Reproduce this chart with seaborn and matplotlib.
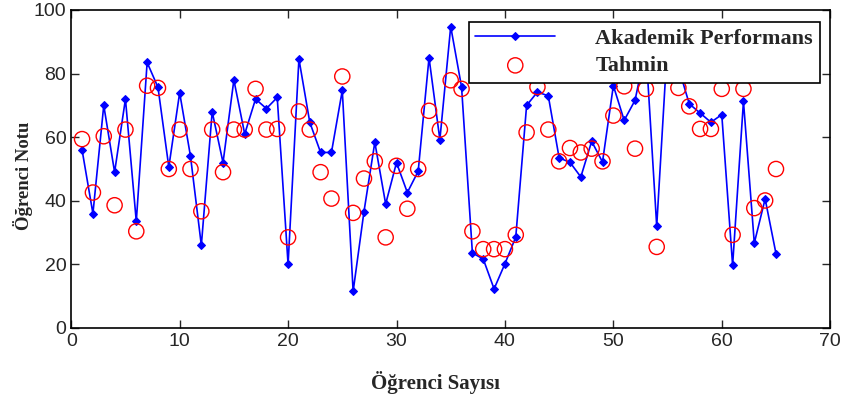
import numpy as np
import pandas as pd
import seaborn as sns
import matplotlib.pyplot as plt

# Data
ogrenci = list(range(1, 66))
akademik = [56, 36, 70, 49, 72, 33.5, 83.5, 75.7, 50.6, 74, 54, 26, 68, 52, 78,
            61, 72, 69, 72.5, 20, 84.6, 64.7, 55.2, 55.2, 74.7, 11.5, 36.6, 58.4, 39, 52,
            42.6, 49.3, 85, 59.2, 94.8, 75.8, 23.6, 21.7, 12.3, 20.2, 28.6, 70, 74.2, 73, 53.5,
            52.1, 47.5, 58.7, 52.2, 76.2, 65.3, 71.6, 88, 32, 90, 82, 70.5, 67.6, 64.7, 67.1,
            19.7, 71.3, 26.7, 40.6, 23.4]
tahmin = [59.4, 42.6, 60.3, 38.6, 62.4, 30.4, 76.2, 75.5, 50, 62.4, 50, 36.7, 62.4, 49, 62.4,
          62.4, 75.2, 62.4, 62.6, 28.5, 68.1, 62.4, 49, 40.7, 79.1, 36.2, 47, 52.4, 28.5, 51,
          37.5, 50, 68.3, 62.4, 77.9, 75.2, 30.4, 24.8, 24.8, 24.8, 29.3, 61.5, 75.8, 62.4, 52.4,
          56.6, 55.2, 56.4, 52.4, 66.8, 76, 56.4, 75.2, 25.5, 80, 75.5, 69.7, 62.6, 62.6, 75.2,
          29.3, 75.2, 37.7, 40.1, 50]

df = pd.DataFrame({"ogrenci": ogrenci, "akademik": akademik, "tahmin": tahmin})

sns.set_style("ticks")
plt.rcParams['font.family'] = ['Liberation Sans', 'DejaVu Sans']

fig = plt.figure(figsize=(8.48, 4.0), dpi=100)
ax = fig.add_axes([0.084, 0.18, 0.895, 0.795])

sns.lineplot(data=df, x="ogrenci", y="akademik", ax=ax, color="#0000ff", lw=1.2,
             marker="D", markersize=4.5, markeredgecolor="#0000ff",
             label="Akademik Performans")
sns.scatterplot(data=df, x="ogrenci", y="tahmin", ax=ax, marker="o", s=120,
                facecolor="none", edgecolor="#ff0000", linewidth=1.0,
                label="Tahmin", zorder=3)

ax.set_xlim(0, 70)
ax.set_ylim(0, 100)
ax.set_xticks(range(0, 71, 10))
ax.set_yticks(range(0, 101, 20))
ax.tick_params(direction="in", top=True, right=True, labelsize=14, length=6, width=1)
for sp in ax.spines.values():
    sp.set_visible(True)
    sp.set_linewidth(1.2)
    sp.set_color("black")

serif = ['Liberation Serif', 'DejaVu Serif']
ax.set_xlabel("Öğrenci Sayısı", fontsize=15, fontweight="bold", family=serif)
ax.set_ylabel("Öğrenci Notu", fontsize=13.5, fontweight="bold", family=serif)
ax.xaxis.set_label_coords(0.48, -0.135)
ax.yaxis.set_label_coords(-0.05, 0.48)

leg = ax.legend(loc="upper right", bbox_to_anchor=(0.986, 0.963), borderaxespad=0,
                frameon=True, fancybox=False, edgecolor="black", framealpha=1,
                prop={'family': serif, 'weight': 'bold', 'size': 16},
                handlelength=3.6, borderpad=0.3, labelspacing=0.3, handletextpad=1.8)
leg.get_frame().set_linewidth(1.2)
leg.set_zorder(10)

fig.savefig("out.png", dpi=100)
